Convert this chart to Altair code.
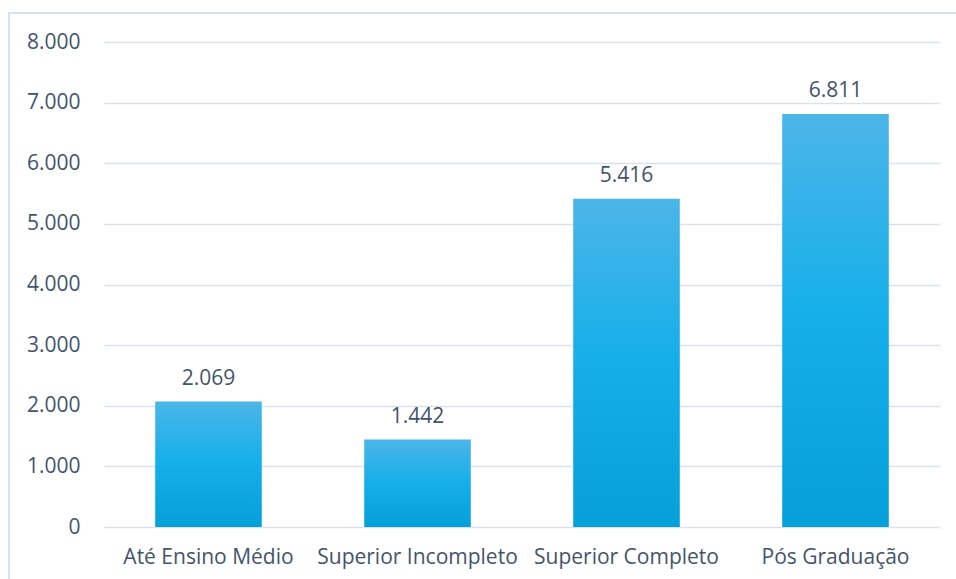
import altair as alt
import pandas as pd

categories = ["Até Ensino Médio", "Superior Incompleto", "Superior Completo", "Pós Graduação"]
values = [2069, 1442, 5416, 6811]
y_ticks = [0, 1000, 2000, 3000, 4000, 5000, 6000, 7000, 8000]

df = pd.DataFrame({"cat": categories, "val": values})

FONT = "Open Sans"
FS = 21
TXT = "#44546A"
GRID = "#D9E2EC"

gradient = alt.Gradient(
    gradient="linear",
    stops=[
        alt.GradientStop(color="#4CB5E8", offset=0),
        alt.GradientStop(color="#14AFEA", offset=0.5),
        alt.GradientStop(color="#05A0DA", offset=1),
    ],
    x1=0, x2=0, y1=0, y2=1,
)

x = alt.X("cat:N", sort=categories, title=None,
          scale=alt.Scale(paddingInner=0.49, paddingOuter=0.245),
          axis=alt.Axis(labelAngle=0, labelFont=FONT, labelFontSize=FS, labelColor=TXT,
                        ticks=False, domain=False, labelPadding=19, grid=False,
                        labelLimit=400))
y = alt.Y("val:Q", title=None,
          scale=alt.Scale(domain=[0, 8000], nice=False),
          axis=alt.Axis(values=y_ticks, labelFont=FONT, labelFontSize=FS, labelColor=TXT,
                        ticks=False, domain=False, labelPadding=24,
                        gridColor=GRID, gridWidth=1.5,
                        labelExpr="replace(format(datum.value, ','), ',', '.')"))

bars = alt.Chart(df).mark_bar(color=gradient).encode(x=x, y=y)

labels = alt.Chart(df).transform_calculate(
    lbl="replace(format(datum.val, ','), ',', '.')"
).mark_text(font=FONT, fontSize=FS, color=TXT, baseline="alphabetic", dy=-17).encode(
    x=alt.X("cat:N", sort=categories), y="val:Q", text="lbl:N")

frame = alt.Chart(df).mark_rect(fill=None, stroke=GRID, strokeWidth=1.5, clip=False).encode(
    x=alt.value(-95), x2=alt.value(860), y=alt.value(-29), y2=alt.value(600))

chart = alt.layer(frame, bars, labels).properties(
    width=836, height=485,
    autosize=alt.AutoSizeParams(type="none"),
    padding={"left": 104, "top": 42, "right": 16, "bottom": 52},
).configure_view(stroke=None)

chart.save("out.html", embed_options={"renderer": "svg", "actions": False})
